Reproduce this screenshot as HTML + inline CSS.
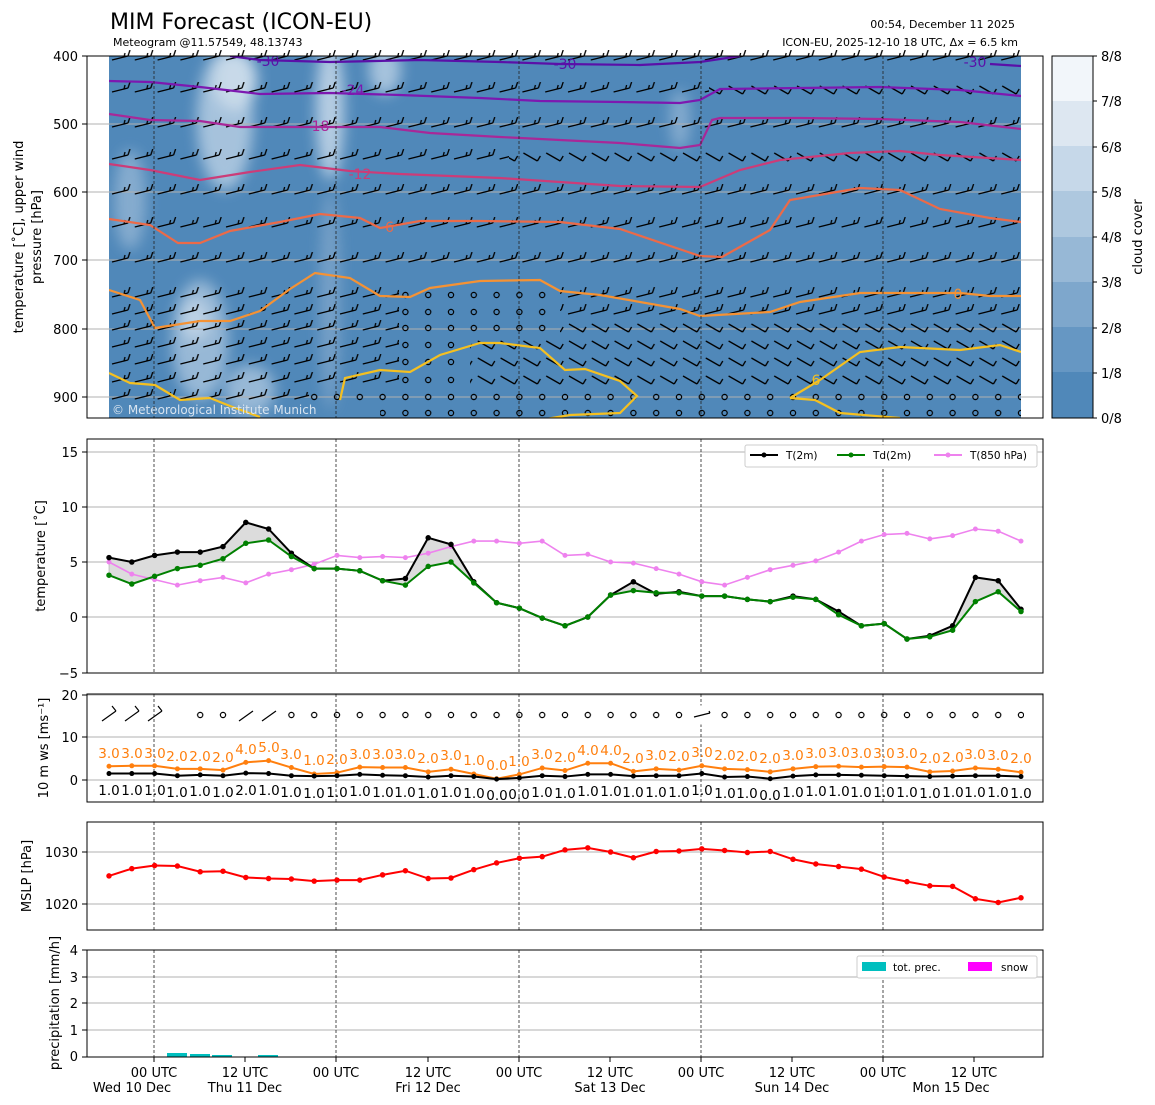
<!DOCTYPE html>
<html><head><meta charset="utf-8"><style>
body{margin:0;background:#fff;}
svg{display:block;font-family:"DejaVu Sans","Liberation Sans",sans-serif;}
</style></head><body>
<svg width="1155" height="1105" viewBox="0 0 1155 1105" xmlns="http://www.w3.org/2000/svg">
<defs>
<filter id="bl" x="-50%" y="-50%" width="200%" height="200%"><feGaussianBlur stdDeviation="7"/></filter>
<pattern id="pb" x="109" y="0" width="22.8" height="16" patternUnits="userSpaceOnUse">
<path d="M3,10 L19,6 M19,6 L21,0 M15,7 L16,3" stroke="#000" stroke-width="1.3" fill="none"/></pattern>
<pattern id="pb2" x="109" y="0" width="22.8" height="16" patternUnits="userSpaceOnUse">
<path d="M4,4 L18,12 M18,12 L21,7" stroke="#000" stroke-width="1.3" fill="none"/></pattern>
<pattern id="pc" x="109" y="0" width="22.8" height="16" patternUnits="userSpaceOnUse">
<circle cx="0" cy="8" r="2.6" stroke="#000" stroke-width="1.2" fill="none"/><circle cx="22.8" cy="8" r="2.6" stroke="#000" stroke-width="1.2" fill="none"/></pattern>
<clipPath id="cp"><rect x="109" y="56" width="912" height="362"/></clipPath>
</defs>

<!-- Titles -->
<text x="110" y="29" font-size="22">MIM Forecast (ICON-EU)</text>
<text x="113" y="46" font-size="11">Meteogram @11.57549, 48.13743</text>
<text x="1015" y="28" font-size="11" text-anchor="end">00:54, December 11 2025</text>
<text x="1018" y="46" font-size="11" text-anchor="end">ICON-EU, 2025-12-10 18 UTC, Δx = 6.5 km</text>

<!-- TOP PANEL -->
<rect x="109" y="56" width="912" height="362" fill="#5088b9"/>
<g clip-path="url(#cp)" filter="url(#bl)" fill="#b5cde3" opacity="0.85">
<ellipse cx="225" cy="120" rx="28" ry="70"/>
<ellipse cx="235" cy="80" rx="22" ry="30" fill="#dde8f2"/>
<ellipse cx="330" cy="110" rx="14" ry="70" fill="#c7d9ea"/>
<ellipse cx="385" cy="70" rx="16" ry="25"/>
<ellipse cx="130" cy="200" rx="16" ry="50" fill="#8fb2d3"/>
<ellipse cx="200" cy="340" rx="28" ry="60" fill="#a4c1dc"/>
<ellipse cx="195" cy="320" rx="14" ry="20" fill="#d0dfed"/>
<ellipse cx="250" cy="390" rx="25" ry="25" fill="#a4c1dc"/>
<ellipse cx="330" cy="300" rx="10" ry="110" fill="#7fa6cb"/>
<ellipse cx="680" cy="120" rx="10" ry="30" fill="#8fb2d3"/>
</g>
<!-- grid lines -->
<g stroke="#b0b0b0" stroke-width="1">
<line x1="87" y1="124" x2="1043" y2="124"/><line x1="87" y1="192" x2="1043" y2="192"/>
<line x1="87" y1="260" x2="1043" y2="260"/><line x1="87" y1="329" x2="1043" y2="329"/>
<line x1="87" y1="397" x2="1043" y2="397"/>
</g>
<!-- barbs -->
<g>
<g transform="translate(0,50)"><rect x="109" y="0" width="912" height="16" fill="url(#pb)"/></g>
<g transform="translate(0,82)"><rect x="109" y="0" width="600" height="16" fill="url(#pb)"/><rect x="709" y="0" width="312" height="16" fill="url(#pb2)"/></g>
<g transform="translate(0,117)"><rect x="109" y="0" width="912" height="16" fill="url(#pb)"/></g>
<g transform="translate(0,149)"><rect x="109" y="0" width="400" height="16" fill="url(#pb)"/><rect x="509" y="0" width="512" height="16" fill="url(#pb2)"/></g>
<g transform="translate(0,184)"><rect x="109" y="0" width="912" height="16" fill="url(#pb)"/></g>
<g transform="translate(0,217)"><rect x="109" y="0" width="912" height="16" fill="url(#pb)"/></g>
<g transform="translate(0,252)"><rect x="109" y="0" width="912" height="16" fill="url(#pb)"/></g>
<g transform="translate(0,287)"><rect x="109" y="0" width="290" height="16" fill="url(#pb)"/><rect x="400" y="0" width="160" height="16" fill="url(#pc)"/><rect x="560" y="0" width="461" height="16" fill="url(#pb)"/></g>
<g transform="translate(0,304)"><rect x="109" y="0" width="290" height="16" fill="url(#pb)"/><rect x="400" y="0" width="160" height="16" fill="url(#pc)"/><rect x="560" y="0" width="461" height="16" fill="url(#pb)"/></g>
<g transform="translate(0,320)"><rect x="109" y="0" width="290" height="16" fill="url(#pb)"/><rect x="400" y="0" width="160" height="16" fill="url(#pc)"/><rect x="560" y="0" width="461" height="16" fill="url(#pb2)"/></g>
<g transform="translate(0,337)"><rect x="109" y="0" width="290" height="16" fill="url(#pb)"/><rect x="400" y="0" width="70" height="16" fill="url(#pc)"/><rect x="470" y="0" width="551" height="16" fill="url(#pb2)"/></g>
<g transform="translate(0,354)"><rect x="109" y="0" width="290" height="16" fill="url(#pb)"/><rect x="400" y="0" width="70" height="16" fill="url(#pc)"/><rect x="470" y="0" width="551" height="16" fill="url(#pb2)"/></g>
<g transform="translate(0,372)"><rect x="109" y="0" width="290" height="16" fill="url(#pb)"/><rect x="400" y="0" width="70" height="16" fill="url(#pc)"/><rect x="470" y="0" width="551" height="16" fill="url(#pb2)"/></g>
<g transform="translate(0,389)"><rect x="109" y="0" width="200" height="16" fill="url(#pb)"/><rect x="309" y="0" width="712" height="16" fill="url(#pc)"/></g>
<g transform="translate(0,405)"><rect x="380" y="0" width="641" height="16" fill="url(#pc)"/></g>
</g>
<!-- contours -->
<g fill="none" stroke-width="2.2" clip-path="url(#cp)">
<polyline stroke="#5a10a8" points="230,56 260,60 330,62 420,60 500,62 560,64 640,65 700,62 740,56"/>
<polyline stroke="#5a10a8" points="990,64 1021,66"/>
<polyline stroke="#7d18b0" points="109,81 150,82 200,87 260,94 330,93 400,95 480,98 540,101 620,102 680,103 700,100 720,89 800,88 880,87 960,90 1021,96"/>
<polyline stroke="#a82898" points="109,114 150,120 200,121 240,127 300,127 380,127 430,133 500,137 560,140 620,143 680,148 700,145 712,120 720,118 800,118 880,119 960,122 1021,129"/>
<polyline stroke="#cc3c78" points="109,164 150,170 200,180 250,172 300,165 350,171 400,174 450,176 500,178 560,182 620,186 700,187 740,170 780,160 850,153 900,151 940,155 1021,160"/>
<polyline stroke="#ec6a48" points="109,219 150,225 178,243 200,243 230,231 280,222 320,214 360,218 380,228 420,221 480,221 560,222 620,229 700,256 722,257 770,230 790,200 860,188 900,190 940,209 990,218 1021,222"/>
<polyline stroke="#f59234" points="109,290 140,300 155,328 200,321 230,321 260,311 290,289 315,273 350,278 380,296 410,297 430,288 480,281 540,280 560,291 600,295 680,309 700,316 770,312 800,302 860,293 960,293 990,296 1021,296"/>
<polyline stroke="#f5c020" points="109,373 130,383 155,385 180,400 210,398 230,406 260,417"/>
<polyline stroke="#f5c020" points="340,400 345,378 380,370 410,372 440,355 480,343 500,343 540,348 565,370 585,369 620,381 637,396 620,413 570,415 540,420"/>
<polyline stroke="#f5c020" points="790,398 820,380 860,352 900,347 960,350 1000,345 1021,352"/>
<polyline stroke="#f5c020" points="790,398 815,400 840,413 900,418"/>
</g>
<g font-size="14">
<text x="268" y="66" fill="#5a10a8" text-anchor="middle">-30</text>
<text x="565" y="69" fill="#5a10a8" text-anchor="middle">-30</text>
<text x="975" y="67" fill="#5a10a8" text-anchor="middle">-30</text>
<text x="353" y="95" fill="#7d18b0" text-anchor="middle">-24</text>
<text x="318" y="131" fill="#a82898" text-anchor="middle">-18</text>
<text x="360" y="179" fill="#cc3c78" text-anchor="middle">-12</text>
<text x="387" y="232" fill="#ec6a48" text-anchor="middle">-6</text>
<text x="958" y="299" fill="#f59234" text-anchor="middle">0</text>
<text x="816" y="385" fill="#f5c020" text-anchor="middle">6</text>
</g>
<text x="112" y="414" font-size="12" fill="#d8e4f0">© Meteorological Institute Munich</text>
<!-- day lines -->
<g stroke="#222" stroke-width="0.8" stroke-dasharray="3,2">
<line x1="154" y1="56" x2="154" y2="418"/><line x1="336" y1="56" x2="336" y2="418"/>
<line x1="519" y1="56" x2="519" y2="418"/><line x1="701" y1="56" x2="701" y2="418"/>
<line x1="883" y1="56" x2="883" y2="418"/>
</g>
<rect x="87" y="56" width="956" height="362" fill="none" stroke="#000" stroke-width="1"/>
<g font-size="13" text-anchor="end">
<text x="78" y="61">400</text><text x="78" y="129">500</text><text x="78" y="197">600</text>
<text x="78" y="265">700</text><text x="78" y="334">800</text><text x="78" y="402">900</text>
</g>
<g stroke="#000"><line x1="82" y1="56" x2="87" y2="56"/><line x1="82" y1="124" x2="87" y2="124"/><line x1="82" y1="192" x2="87" y2="192"/><line x1="82" y1="260" x2="87" y2="260"/><line x1="82" y1="329" x2="87" y2="329"/><line x1="82" y1="397" x2="87" y2="397"/></g>
<text transform="translate(23,237) rotate(-90)" font-size="13" text-anchor="middle">temperature [˚C], upper wind</text>
<text transform="translate(41,237) rotate(-90)" font-size="13" text-anchor="middle">pressure [hPa]</text>

<!-- colorbar -->
<g>
<rect x="1052" y="56" width="41" height="46" fill="#f2f6fa"/>
<rect x="1052" y="101" width="41" height="46" fill="#dde7f1"/>
<rect x="1052" y="146" width="41" height="46" fill="#c6d8e9"/>
<rect x="1052" y="191" width="41" height="46" fill="#aec8df"/>
<rect x="1052" y="237" width="41" height="46" fill="#97b8d6"/>
<rect x="1052" y="282" width="41" height="46" fill="#7ea7cc"/>
<rect x="1052" y="327" width="41" height="46" fill="#6697c3"/>
<rect x="1052" y="372" width="41" height="46" fill="#5088b9"/>
<rect x="1052" y="56" width="41" height="362" fill="none" stroke="#000"/>
<g stroke="#000"><line x1="1093" y1="56" x2="1097" y2="56"/><line x1="1093" y1="101" x2="1097" y2="101"/><line x1="1093" y1="147" x2="1097" y2="147"/><line x1="1093" y1="192" x2="1097" y2="192"/><line x1="1093" y1="237" x2="1097" y2="237"/><line x1="1093" y1="282" x2="1097" y2="282"/><line x1="1093" y1="328" x2="1097" y2="328"/><line x1="1093" y1="373" x2="1097" y2="373"/><line x1="1093" y1="418" x2="1097" y2="418"/></g>
<g font-size="13"><text x="1101" y="61">8/8</text><text x="1101" y="106">7/8</text><text x="1101" y="152">6/8</text><text x="1101" y="197">5/8</text><text x="1101" y="242">4/8</text><text x="1101" y="287">3/8</text><text x="1101" y="333">2/8</text><text x="1101" y="378">1/8</text><text x="1101" y="423">0/8</text></g>
<text transform="translate(1142,237) rotate(-90)" font-size="13" text-anchor="middle">cloud cover</text>
</g>

<!-- TEMPERATURE PANEL -->
<g stroke="#b0b0b0"><line x1="87" y1="452" x2="1043" y2="452"/><line x1="87" y1="507" x2="1043" y2="507"/><line x1="87" y1="562" x2="1043" y2="562"/><line x1="87" y1="617" x2="1043" y2="617"/></g>
<g stroke="#222" stroke-width="0.8" stroke-dasharray="3,2">
<line x1="154" y1="439" x2="154" y2="673"/><line x1="336" y1="439" x2="336" y2="673"/><line x1="519" y1="439" x2="519" y2="673"/><line x1="701" y1="439" x2="701" y2="673"/><line x1="883" y1="439" x2="883" y2="673"/>
</g>
<g transform="translate(109,617) scale(22.8,-11)">
<polygon fill="#dcdcdc" stroke="#999" stroke-width="0.5" vector-effect="non-scaling-stroke" points="0,5.4 1,5.0 2,5.6 3,5.9 4,5.9 5,6.4 6,8.6 7,8.0 8,5.8 9,4.4 10,4.4 11,4.2 12,3.3 13,3.5 14,7.2 15,6.6 16,3.2 17,1.3 18,0.8 19,-0.1 20,-0.8 21,0.0 22,2.0 23,3.2 24,2.1 25,2.3 26,1.9 27,1.9 28,1.6 29,1.4 30,1.9 31,1.6 32,0.5 33,-0.8 34,-0.6 35,-2.0 36,-1.7 37,-0.8 38,3.6 39,3.3 40,0.7 40,0.5 39,2.3 38,1.4 37,-1.2 36,-1.8 35,-2.0 34,-0.6 33,-0.8 32,0.2 31,1.6 30,1.8 29,1.4 28,1.6 27,1.9 26,1.9 25,2.2 24,2.2 23,2.4 22,2.0 21,0.0 20,-0.8 19,-0.1 18,0.8 17,1.3 16,3.1 15,5.0 14,4.6 13,2.9 12,3.3 11,4.2 10,4.4 9,4.4 8,5.5 7,7.0 6,6.7 5,5.3 4,4.7 3,4.4 2,3.7 1,3.0 0,3.8"/>
<g fill="none">
<polyline stroke="#ee82ee" stroke-width="1.6" vector-effect="non-scaling-stroke" points="0,5.0 1,3.9 2,3.4 3,2.9 4,3.3 5,3.6 6,3.1 7,3.9 8,4.3 9,4.8 10,5.6 11,5.4 12,5.5 13,5.4 14,5.8 15,6.4 16,6.9 17,6.9 18,6.7 19,6.9 20,5.6 21,5.7 22,5.0 23,4.9 24,4.4 25,3.9 26,3.2 27,2.9 28,3.6 29,4.3 30,4.7 31,5.1 32,5.9 33,6.9 34,7.5 35,7.6 36,7.1 37,7.4 38,8.0 39,7.8 40,6.9"/>
<path stroke="#ee82ee" stroke-width="5" stroke-linecap="round" vector-effect="non-scaling-stroke" d="M0,5.0h0M1,3.9h0M2,3.4h0M3,2.9h0M4,3.3h0M5,3.6h0M6,3.1h0M7,3.9h0M8,4.3h0M9,4.8h0M10,5.6h0M11,5.4h0M12,5.5h0M13,5.4h0M14,5.8h0M15,6.4h0M16,6.9h0M17,6.9h0M18,6.7h0M19,6.9h0M20,5.6h0M21,5.7h0M22,5.0h0M23,4.9h0M24,4.4h0M25,3.9h0M26,3.2h0M27,2.9h0M28,3.6h0M29,4.3h0M30,4.7h0M31,5.1h0M32,5.9h0M33,6.9h0M34,7.5h0M35,7.6h0M36,7.1h0M37,7.4h0M38,8.0h0M39,7.8h0M40,6.9h0"/>
<polyline stroke="#000" stroke-width="2" vector-effect="non-scaling-stroke" points="0,5.4 1,5.0 2,5.6 3,5.9 4,5.9 5,6.4 6,8.6 7,8.0 8,5.8 9,4.4 10,4.4 11,4.2 12,3.3 13,3.5 14,7.2 15,6.6 16,3.2 17,1.3 18,0.8 19,-0.1 20,-0.8 21,0.0 22,2.0 23,3.2 24,2.1 25,2.3 26,1.9 27,1.9 28,1.6 29,1.4 30,1.9 31,1.6 32,0.5 33,-0.8 34,-0.6 35,-2.0 36,-1.7 37,-0.8 38,3.6 39,3.3 40,0.7"/>
<path stroke="#000" stroke-width="5.5" stroke-linecap="round" vector-effect="non-scaling-stroke" d="M0,5.4h0M1,5.0h0M2,5.6h0M3,5.9h0M4,5.9h0M5,6.4h0M6,8.6h0M7,8.0h0M8,5.8h0M9,4.4h0M10,4.4h0M11,4.2h0M12,3.3h0M13,3.5h0M14,7.2h0M15,6.6h0M16,3.2h0M17,1.3h0M18,0.8h0M19,-0.1h0M20,-0.8h0M21,0.0h0M22,2.0h0M23,3.2h0M24,2.1h0M25,2.3h0M26,1.9h0M27,1.9h0M28,1.6h0M29,1.4h0M30,1.9h0M31,1.6h0M32,0.5h0M33,-0.8h0M34,-0.6h0M35,-2.0h0M36,-1.7h0M37,-0.8h0M38,3.6h0M39,3.3h0M40,0.7h0"/>
<polyline stroke="#008000" stroke-width="2" vector-effect="non-scaling-stroke" points="0,3.8 1,3.0 2,3.7 3,4.4 4,4.7 5,5.3 6,6.7 7,7.0 8,5.5 9,4.4 10,4.4 11,4.2 12,3.3 13,2.9 14,4.6 15,5.0 16,3.1 17,1.3 18,0.8 19,-0.1 20,-0.8 21,0.0 22,2.0 23,2.4 24,2.2 25,2.2 26,1.9 27,1.9 28,1.6 29,1.4 30,1.8 31,1.6 32,0.2 33,-0.8 34,-0.6 35,-2.0 36,-1.8 37,-1.2 38,1.4 39,2.3 40,0.5"/>
<path stroke="#008000" stroke-width="5.5" stroke-linecap="round" vector-effect="non-scaling-stroke" d="M0,3.8h0M1,3.0h0M2,3.7h0M3,4.4h0M4,4.7h0M5,5.3h0M6,6.7h0M7,7.0h0M8,5.5h0M9,4.4h0M10,4.4h0M11,4.2h0M12,3.3h0M13,2.9h0M14,4.6h0M15,5.0h0M16,3.1h0M17,1.3h0M18,0.8h0M19,-0.1h0M20,-0.8h0M21,0.0h0M22,2.0h0M23,2.4h0M24,2.2h0M25,2.2h0M26,1.9h0M27,1.9h0M28,1.6h0M29,1.4h0M30,1.8h0M31,1.6h0M32,0.2h0M33,-0.8h0M34,-0.6h0M35,-2.0h0M36,-1.8h0M37,-1.2h0M38,1.4h0M39,2.3h0M40,0.5h0"/>
</g></g>
<rect x="87" y="439" width="956" height="234" fill="none" stroke="#000"/>
<g font-size="13" text-anchor="end"><text x="78" y="457">15</text><text x="78" y="512">10</text><text x="78" y="567">5</text><text x="78" y="622">0</text><text x="78" y="678">−5</text></g>
<g stroke="#000"><line x1="82" y1="452" x2="87" y2="452"/><line x1="82" y1="507" x2="87" y2="507"/><line x1="82" y1="562" x2="87" y2="562"/><line x1="82" y1="617" x2="87" y2="617"/><line x1="82" y1="673" x2="87" y2="673"/></g>
<text transform="translate(45,556) rotate(-90)" font-size="13" text-anchor="middle">temperature [˚C]</text>
<!-- legend -->
<rect x="745" y="445" width="292" height="22" fill="#fff" stroke="#ccc" rx="2"/>
<g font-size="10.5">
<line x1="750" y1="455" x2="778" y2="455" stroke="#000" stroke-width="2"/><circle cx="764" cy="455" r="2.5"/><text x="786" y="459">T(2m)</text>
<line x1="837" y1="455" x2="865" y2="455" stroke="#008000" stroke-width="2"/><circle cx="851" cy="455" r="2.5" fill="#008000"/><text x="873" y="459">Td(2m)</text>
<line x1="934" y1="455" x2="962" y2="455" stroke="#ee82ee" stroke-width="2"/><circle cx="948" cy="455" r="2.5" fill="#ee82ee"/><text x="970" y="459">T(850 hPa)</text>
</g>

<!-- WIND PANEL -->
<g stroke="#b0b0b0"><line x1="87" y1="695" x2="1043" y2="695"/><line x1="87" y1="737" x2="1043" y2="737"/><line x1="87" y1="780" x2="1043" y2="780"/></g>
<g stroke="#222" stroke-width="0.8" stroke-dasharray="3,2">
<line x1="154" y1="694" x2="154" y2="802"/><line x1="336" y1="694" x2="336" y2="802"/><line x1="519" y1="694" x2="519" y2="802"/><line x1="701" y1="694" x2="701" y2="802"/><line x1="883" y1="694" x2="883" y2="802"/>
</g>
<g transform="translate(0,707)"><rect x="190" y="0" width="834" height="16" fill="url(#pc)"/></g>
<g stroke="#fff" fill="#fff"><rect x="235" y="706" width="44" height="18"/><rect x="690" y="706" width="22" height="18"/></g>
<g stroke="#000" stroke-width="1.2" fill="none">
<path d="M102,721 L116,711 M116,711 L112,706"/><path d="M125,721 L139,711 M139,711 L135,706"/><path d="M148,721 L162,711 M162,711 L158,706"/>
<path d="M239,721 L253,711"/><path d="M262,721 L276,711"/><path d="M694,717 L710,713 M710,713 L709,711"/>
</g>
<g transform="translate(109,780) scale(22.8,-4.3)" fill="none">
<polyline stroke="#ff7f0e" stroke-width="2" vector-effect="non-scaling-stroke" points="0,3.2 1,3.3 2,3.3 3,2.6 4,2.6 5,2.3 6,4.1 7,4.5 8,2.9 9,1.4 10,1.7 11,3.0 12,2.9 13,2.9 14,1.9 15,2.5 16,1.4 17,0.3 18,1.3 19,2.8 20,2.2 21,3.9 22,3.9 23,2.0 24,2.6 25,2.3 26,3.3 27,2.6 28,2.4 29,1.9 30,2.6 31,3.1 32,3.2 33,3.0 34,3.1 35,3.0 36,1.9 37,2.1 38,2.8 39,2.5 40,1.8"/>
<path stroke="#ff7f0e" stroke-width="5" stroke-linecap="round" vector-effect="non-scaling-stroke" d="M0,3.2h0M1,3.3h0M2,3.3h0M3,2.6h0M4,2.6h0M5,2.3h0M6,4.1h0M7,4.5h0M8,2.9h0M9,1.4h0M10,1.7h0M11,3.0h0M12,2.9h0M13,2.9h0M14,1.9h0M15,2.5h0M16,1.4h0M17,0.3h0M18,1.3h0M19,2.8h0M20,2.2h0M21,3.9h0M22,3.9h0M23,2.0h0M24,2.6h0M25,2.3h0M26,3.3h0M27,2.6h0M28,2.4h0M29,1.9h0M30,2.6h0M31,3.1h0M32,3.2h0M33,3.0h0M34,3.1h0M35,3.0h0M36,1.9h0M37,2.1h0M38,2.8h0M39,2.5h0M40,1.8h0"/>
<polyline stroke="#000" stroke-width="2" vector-effect="non-scaling-stroke" points="0,1.5 1,1.5 2,1.5 3,1.0 4,1.2 5,1.0 6,1.6 7,1.5 8,1.0 9,0.9 10,1.0 11,1.3 12,1.1 13,1.0 14,0.7 15,1.0 16,0.8 17,0.2 18,0.5 19,1.0 20,0.8 21,1.3 22,1.3 23,0.9 24,1.0 25,1.0 26,1.5 27,0.7 28,0.8 29,0.3 30,0.9 31,1.2 32,1.2 33,1.1 34,1.0 35,0.9 36,0.8 37,0.9 38,1.0 39,1.0 40,0.8"/>
<path stroke="#000" stroke-width="5" stroke-linecap="round" vector-effect="non-scaling-stroke" d="M0,1.5h0M1,1.5h0M2,1.5h0M3,1.0h0M4,1.2h0M5,1.0h0M6,1.6h0M7,1.5h0M8,1.0h0M9,0.9h0M10,1.0h0M11,1.3h0M12,1.1h0M13,1.0h0M14,0.7h0M15,1.0h0M16,0.8h0M17,0.2h0M18,0.5h0M19,1.0h0M20,0.8h0M21,1.3h0M22,1.3h0M23,0.9h0M24,1.0h0M25,1.0h0M26,1.5h0M27,0.7h0M28,0.8h0M29,0.3h0M30,0.9h0M31,1.2h0M32,1.2h0M33,1.1h0M34,1.0h0M35,0.9h0M36,0.8h0M37,0.9h0M38,1.0h0M39,1.0h0M40,0.8h0"/>
</g>
<g font-size="13.5" fill="#ff7f0e" text-anchor="middle">
<text x="109" y="758">3.0</text><text x="132" y="758">3.0</text><text x="155" y="758">3.0</text><text x="177" y="761">2.0</text><text x="200" y="761">2.0</text><text x="223" y="762">2.0</text><text x="246" y="754">4.0</text><text x="269" y="752">5.0</text><text x="291" y="759">3.0</text><text x="314" y="765">1.0</text><text x="337" y="764">2.0</text><text x="360" y="759">3.0</text><text x="383" y="759">3.0</text><text x="405" y="759">3.0</text><text x="428" y="763">2.0</text><text x="451" y="760">3.0</text><text x="474" y="765">1.0</text><text x="497" y="770">0.0</text><text x="519" y="766">1.0</text><text x="542" y="759">3.0</text><text x="565" y="762">2.0</text><text x="588" y="755">4.0</text><text x="611" y="755">4.0</text><text x="633" y="763">2.0</text><text x="656" y="760">3.0</text><text x="679" y="761">2.0</text><text x="702" y="757">3.0</text><text x="725" y="760">2.0</text><text x="747" y="761">2.0</text><text x="770" y="763">2.0</text><text x="793" y="760">3.0</text><text x="816" y="758">3.0</text><text x="839" y="757">3.0</text><text x="861" y="758">3.0</text><text x="884" y="758">3.0</text><text x="907" y="758">3.0</text><text x="930" y="763">2.0</text><text x="953" y="762">2.0</text><text x="975" y="759">3.0</text><text x="998" y="760">3.0</text><text x="1021" y="763">2.0</text>
</g>
<g font-size="13.5" fill="#000" text-anchor="middle">
<text x="109" y="795">1.0</text><text x="132" y="795">1.0</text><text x="155" y="795">1.0</text><text x="177" y="797">1.0</text><text x="200" y="796">1.0</text><text x="223" y="797">1.0</text><text x="246" y="795">2.0</text><text x="269" y="795">1.0</text><text x="291" y="797">1.0</text><text x="314" y="798">1.0</text><text x="337" y="797">1.0</text><text x="360" y="796">1.0</text><text x="383" y="797">1.0</text><text x="405" y="797">1.0</text><text x="428" y="798">1.0</text><text x="451" y="797">1.0</text><text x="474" y="798">1.0</text><text x="497" y="800">0.0</text><text x="519" y="799">0.0</text><text x="542" y="797">1.0</text><text x="565" y="798">1.0</text><text x="588" y="796">1.0</text><text x="611" y="796">1.0</text><text x="633" y="797">1.0</text><text x="656" y="797">1.0</text><text x="679" y="797">1.0</text><text x="702" y="795">1.0</text><text x="725" y="798">1.0</text><text x="747" y="798">1.0</text><text x="770" y="800">0.0</text><text x="793" y="797">1.0</text><text x="816" y="796">1.0</text><text x="839" y="796">1.0</text><text x="861" y="797">1.0</text><text x="884" y="797">1.0</text><text x="907" y="797">1.0</text><text x="930" y="798">1.0</text><text x="953" y="797">1.0</text><text x="975" y="797">1.0</text><text x="998" y="797">1.0</text><text x="1021" y="798">1.0</text>
</g>
<rect x="87" y="694" width="956" height="108" fill="none" stroke="#000"/>
<g font-size="13" text-anchor="end"><text x="78" y="700">20</text><text x="78" y="742">10</text><text x="78" y="785">0</text></g>
<g stroke="#000"><line x1="82" y1="695" x2="87" y2="695"/><line x1="82" y1="737" x2="87" y2="737"/><line x1="82" y1="780" x2="87" y2="780"/></g>
<text transform="translate(48,748) rotate(-90)" font-size="13" text-anchor="middle">10 m ws [ms⁻¹]</text>

<!-- MSLP PANEL -->
<g stroke="#b0b0b0"><line x1="87" y1="852" x2="1043" y2="852"/><line x1="87" y1="904" x2="1043" y2="904"/></g>
<g stroke="#222" stroke-width="0.8" stroke-dasharray="3,2">
<line x1="154" y1="822" x2="154" y2="930"/><line x1="336" y1="822" x2="336" y2="930"/><line x1="519" y1="822" x2="519" y2="930"/><line x1="701" y1="822" x2="701" y2="930"/><line x1="883" y1="822" x2="883" y2="930"/>
</g>
<g transform="translate(109,904) scale(22.8,-5.2) translate(0,-1020)" fill="none">
<polyline stroke="#ff0000" stroke-width="2" vector-effect="non-scaling-stroke" points="0,1025.4 1,1026.8 2,1027.4 3,1027.3 4,1026.2 5,1026.3 6,1025.1 7,1024.9 8,1024.8 9,1024.4 10,1024.6 11,1024.6 12,1025.6 13,1026.4 14,1024.9 15,1025.0 16,1026.6 17,1027.9 18,1028.8 19,1029.1 20,1030.4 21,1030.8 22,1030.0 23,1028.9 24,1030.1 25,1030.2 26,1030.6 27,1030.3 28,1029.9 29,1030.1 30,1028.6 31,1027.7 32,1027.2 33,1026.7 34,1025.2 35,1024.3 36,1023.5 37,1023.4 38,1021.0 39,1020.3 40,1021.2"/>
<path stroke="#ff0000" stroke-width="5.5" stroke-linecap="round" vector-effect="non-scaling-stroke" d="M0,1025.4h0M1,1026.8h0M2,1027.4h0M3,1027.3h0M4,1026.2h0M5,1026.3h0M6,1025.1h0M7,1024.9h0M8,1024.8h0M9,1024.4h0M10,1024.6h0M11,1024.6h0M12,1025.6h0M13,1026.4h0M14,1024.9h0M15,1025.0h0M16,1026.6h0M17,1027.9h0M18,1028.8h0M19,1029.1h0M20,1030.4h0M21,1030.8h0M22,1030.0h0M23,1028.9h0M24,1030.1h0M25,1030.2h0M26,1030.6h0M27,1030.3h0M28,1029.9h0M29,1030.1h0M30,1028.6h0M31,1027.7h0M32,1027.2h0M33,1026.7h0M34,1025.2h0M35,1024.3h0M36,1023.5h0M37,1023.4h0M38,1021.0h0M39,1020.3h0M40,1021.2h0"/>
</g>
<rect x="87" y="822" width="956" height="108" fill="none" stroke="#000"/>
<g font-size="13" text-anchor="end"><text x="78" y="857">1030</text><text x="78" y="909">1020</text></g>
<g stroke="#000"><line x1="82" y1="852" x2="87" y2="852"/><line x1="82" y1="904" x2="87" y2="904"/></g>
<text transform="translate(31,876) rotate(-90)" font-size="13" text-anchor="middle">MSLP [hPa]</text>

<!-- PRECIP PANEL -->
<g stroke="#b0b0b0"><line x1="87" y1="950" x2="1043" y2="950"/><line x1="87" y1="977" x2="1043" y2="977"/><line x1="87" y1="1003" x2="1043" y2="1003"/><line x1="87" y1="1030" x2="1043" y2="1030"/></g>
<g stroke="#222" stroke-width="0.8" stroke-dasharray="3,2">
<line x1="154" y1="950" x2="154" y2="1057"/><line x1="336" y1="950" x2="336" y2="1057"/><line x1="519" y1="950" x2="519" y2="1057"/><line x1="701" y1="950" x2="701" y2="1057"/><line x1="883" y1="950" x2="883" y2="1057"/>
</g>
<g fill="#00bfbf"><rect x="167" y="1053" width="20" height="4"/><rect x="190" y="1054" width="20" height="3"/><rect x="212" y="1055" width="20" height="2"/><rect x="258" y="1055" width="20" height="2"/></g>
<rect x="87" y="950" width="956" height="107" fill="none" stroke="#000"/>
<g font-size="13" text-anchor="end"><text x="78" y="955">4</text><text x="78" y="982">3</text><text x="78" y="1008">2</text><text x="78" y="1035">1</text><text x="78" y="1061">0</text></g>
<g stroke="#000"><line x1="82" y1="950" x2="87" y2="950"/><line x1="82" y1="977" x2="87" y2="977"/><line x1="82" y1="1003" x2="87" y2="1003"/><line x1="82" y1="1030" x2="87" y2="1030"/><line x1="82" y1="1057" x2="87" y2="1057"/></g>
<text transform="translate(59,1003) rotate(-90)" font-size="13" text-anchor="middle">precipitation [mm/h]</text>
<rect x="857" y="956" width="180" height="22" fill="#fff" stroke="#ccc" rx="2"/>
<rect x="862" y="962" width="24" height="9" fill="#00bfbf"/><text x="893" y="971" font-size="10.5">tot. prec.</text>
<rect x="968" y="962" width="24" height="9" fill="#ff00ff"/><text x="1001" y="971" font-size="10.5">snow</text>

<!-- x ticks -->
<g stroke="#000">
<line x1="154" y1="1057" x2="154" y2="1062"/><line x1="245" y1="1057" x2="245" y2="1062"/><line x1="336" y1="1057" x2="336" y2="1062"/><line x1="428" y1="1057" x2="428" y2="1062"/><line x1="519" y1="1057" x2="519" y2="1062"/><line x1="610" y1="1057" x2="610" y2="1062"/><line x1="701" y1="1057" x2="701" y2="1062"/><line x1="792" y1="1057" x2="792" y2="1062"/><line x1="883" y1="1057" x2="883" y2="1062"/><line x1="974" y1="1057" x2="974" y2="1062"/>
</g>
<g font-size="13" text-anchor="middle">
<text x="154" y="1077">00 UTC</text><text x="132" y="1092">Wed 10 Dec</text>
<text x="245" y="1077">12 UTC</text><text x="245" y="1092">Thu 11 Dec</text>
<text x="336" y="1077">00 UTC</text>
<text x="428" y="1077">12 UTC</text><text x="428" y="1092">Fri 12 Dec</text>
<text x="519" y="1077">00 UTC</text>
<text x="610" y="1077">12 UTC</text><text x="610" y="1092">Sat 13 Dec</text>
<text x="701" y="1077">00 UTC</text>
<text x="792" y="1077">12 UTC</text><text x="792" y="1092">Sun 14 Dec</text>
<text x="883" y="1077">00 UTC</text>
<text x="974" y="1077">12 UTC</text><text x="951" y="1092">Mon 15 Dec</text>
</g>
</svg>
</body></html>
